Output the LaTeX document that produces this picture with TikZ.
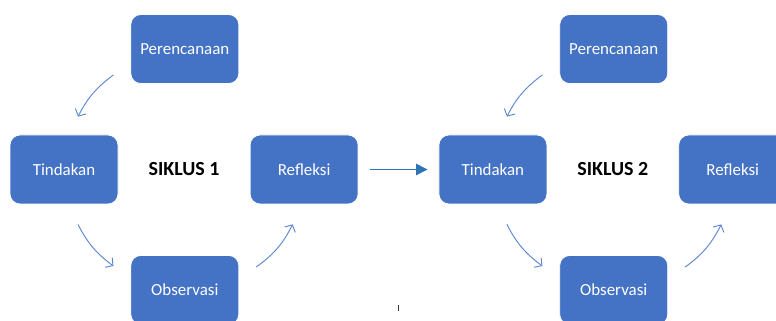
\documentclass[tikz,border=0pt]{standalone}
\usepackage{fontspec}
\setmainfont{Carlito}
\usepackage{tikz}
\usetikzlibrary{arrows.meta,positioning}
\definecolor{siklusblue}{HTML}{4472C4}
\definecolor{siklusarrow}{HTML}{5B86D0}
\definecolor{sikluslink}{HTML}{2E75B6}
\tikzset{
  stage/.style={rectangle,rounded corners=7.5pt,draw=white,line width=0.6pt,fill=siklusblue,text=white,align=center,minimum width=81pt,minimum height=51.75pt,inner sep=0pt,font=\fontsize{12.7}{15}\selectfont},
  title/.style={font=\fontsize{15}{18}\selectfont\bfseries},
  flow/.style={-{Straight Barb[length=4pt,width=9pt]},line width=0.7pt,draw=siklusarrow},
  link/.style={-{Triangle[length=8.5pt,width=8.5pt]},line width=1.1pt,draw=sikluslink}
}

\begin{document}
\begin{tikzpicture}[x=0.75pt,y=0.75pt,node distance=38pt and 9pt]
\clip (0,0) rectangle (776,321);
% siklus 1
\node[stage] (t1) at (64,151.5) {Tindakan};
\node[stage,above right=of t1] (p1) {Perencanaan};
\node[stage,below right=of t1] (o1) {Observasi};
\node[stage,right=98.5pt of t1] (r1) {Refleksi};
\path (t1) -- node[title] (s1) {SIKLUS 1} (r1);
% siklus 2
\node[stage,right=60pt of r1] (t2) {Tindakan};
\node[stage,above right=of t2] (p2) {Perencanaan};
\node[stage,below right=of t2] (o2) {Observasi};
\node[stage,right=98.25pt of t2] (r2) {Refleksi};
\path (t2) -- node[title] (s2) {SIKLUS 2} (r2);
% arrows
\draw[flow] ([shift={(-12.75pt,6.75pt)}]p1.south west) to[out=217,in=63] ([shift={(10.5pt,13.5pt)}]t1.north);
\draw[flow] ([shift={(10.5pt,-15pt)}]t1.south) to[out=297,in=143] ([shift={(-12.75pt,-8.25pt)}]o1.north west);
\draw[flow] ([shift={(12.75pt,-9pt)}]o1.north east) to[out=36,in=243] ([shift={(-8.6pt,-15pt)}]r1.south);
\draw[link,shorten <=8.25pt,shorten >=8.25pt] (r1) -- (t2);
\draw[flow] ([shift={(-12.75pt,6.75pt)}]p2.south west) to[out=217,in=63] ([shift={(10.5pt,13.5pt)}]t2.north);
\draw[flow] ([shift={(10.5pt,-15pt)}]t2.south) to[out=297,in=143] ([shift={(-12.75pt,-8.25pt)}]o2.north west);
\draw[flow] ([shift={(12.75pt,-9pt)}]o2.north east) to[out=36,in=243] ([shift={(-8.6pt,-15pt)}]r2.south);
% stray mark
\draw[black!80,line width=0.75pt] (398,16) -- (398,10);
\end{tikzpicture}
\end{document}
